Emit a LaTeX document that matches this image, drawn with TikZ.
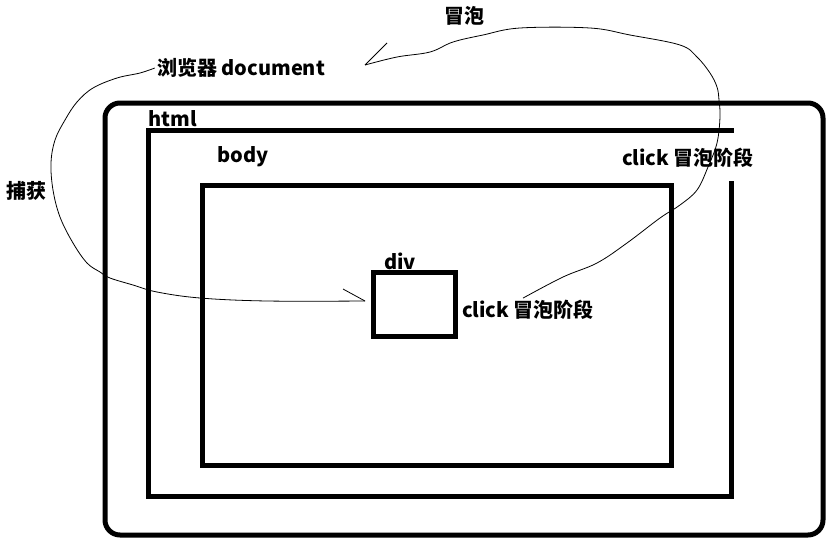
\documentclass[tikz,border=0pt]{standalone}
\usepackage{fontspec}
\setmainfont{Noto Sans CJK SC}
\begin{document}
\begin{tikzpicture}[x=1pt,y=-1pt,font=\fontsize{20}{24}\selectfont\bfseries,
    box/.style={line width=5pt},
    label/.style={inner sep=2pt},
    hand/.style={line width=0.8pt}]
    \useasboundingbox (0,0) rectangle (835,555);
    \draw[box,rounded corners=15pt] (105,103) rectangle (823,535);
    \draw[box] (731,181) -- (731,496) -- (148,496) -- (148,130) -- (734,130);
    \draw[box] (202,185.5) rectangle (671,465);
    \node[box,draw,minimum width=82pt,minimum height=64pt,inner sep=0pt] (div) at (414,304) {};
    \node[label] (html) at (173,119) {html};
    \node[label] (body) at (243,157) {body};
    \node[label] (divlabel) at (400,261) {div};
    \node[label] (clickhtml) at (688,158) {click 冒泡阶段};
    \node[label] (clickdiv) at (528,310) {click 冒泡阶段};
    \node[label] (document) at (241,68) {浏览器 document};
    \node[label] (capture) at (26,191) {捕获};
    \node[label] (bubble) at (464,16) {冒泡};
    \coordinate (capend) at (365,301);
    \coordinate (bubend) at (365,65);
    \draw[hand] plot[smooth,tension=0.6] coordinates {(document.west) (140,73) (117,78)
        (93,88) (77,102) (65,120) (55,140) (51,163) (53,190) (60,217) (73,243)
        (87,263) (100,272) (110,278) (133,285) (157,292) (200,298) (267,301) (capend)};
    \draw[hand] (capend) -- ++(-22,-12);
    \draw[hand] plot[smooth,tension=0.6] coordinates {([xshift=-5pt]clickdiv.north)
        (563,277) (597,263) (627,243) (660,218) (680,205) (697,190) (708,167)
        (717,143) (720,117) (719,100) (717,87) (710,73) (697,57) (680,45) (630,35)
        (590,28) (520,28) (483,35) (453,42) (430,52) (397,57) (bubend)};
    \draw[hand] (bubend) -- ++(22,-22);
\end{tikzpicture}
\end{document}
